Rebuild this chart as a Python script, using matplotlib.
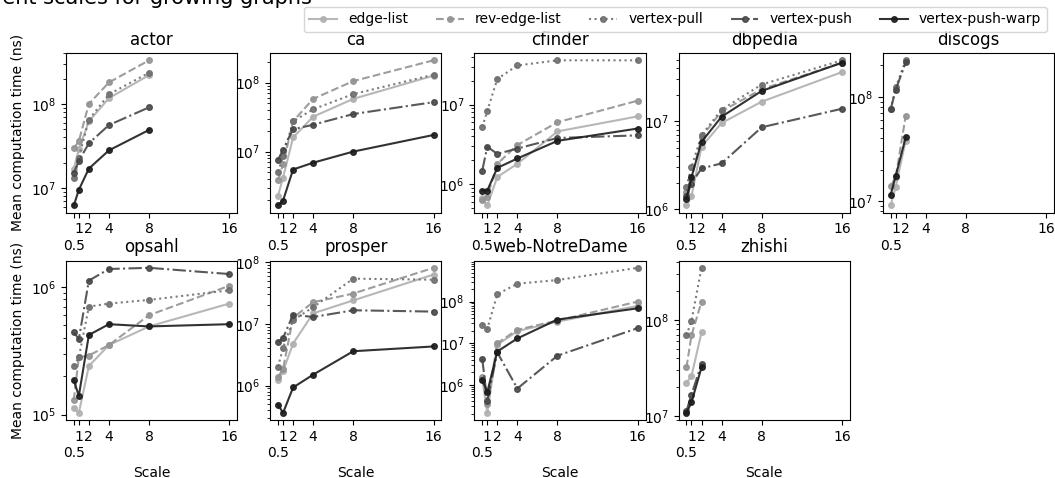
import numpy as np
import matplotlib
matplotlib.use("Agg")
import matplotlib.pyplot as plt

#%% data (mean computation time in ns)
scales = [0.5, 1, 2, 4, 8, 16]
graphs = ['actor', 'ca', 'cfinder', 'dbpedia', 'discogs',
          'opsahl', 'prosper', 'web-NotreDame', 'zhishi']

edge_list = {
    'actor':         [1.7e7, 2.9e7, 6.2e7, 1.17e8, 2.2e8],
    'ca':            [2.3e6, 4.2e6, 1.6e7, 3.2e7, 5.8e7, 1.26e8],
    'cfinder':       [6.6e5, 5.4e5, 1.23e6, 1.8e6, 4.6e6, 7.1e6],
    'dbpedia':       [1.1e6, 1.4e6, 5.1e6, 9.5e6, 1.66e7, 3.6e7],
    'discogs':       [9.1e6, 1.38e7, 3.8e7],
    'opsahl':        [1.13e5, 1.03e5, 2.4e5, 3.5e5, 4.9e5, 7.4e5],
    'prosper':       [1.23e6, 1.7e6, 4.8e6, 1.48e7, 2.4e7, 6.3e7],
    'web-NotreDame': [1.38e6, 2.1e5, 9.1e6, 1.95e7, 3.3e7, 7.9e7],
    'zhishi':        [2.2e7, 2.6e7, 7.4e7],
}
rev_edge_list = {
    'actor':         [2.95e7, 3.6e7, 1.0e8, 1.8e8, 3.3e8],
    'ca':            [3.9e6, 6.5e6, 2.75e7, 5.8e7, 1.05e8, 2.1e8],
    'cfinder':       [6.3e5, 6.9e5, 1.8e6, 3.1e6, 6.0e6, 1.12e7],
    'dbpedia':       [1.55e6, 2.2e6, 6.6e6, 1.29e7, 2.3e7, 4.6e7],
    'discogs':       [1.4e7, 1.7e7, 6.6e7],
    'opsahl':        [1.3e5, 2.8e5, 2.9e5, 3.5e5, 6.0e5, 1.02e6],
    'prosper':       [1.38e6, 1.86e6, 1.26e7, 2.24e7, 3.1e7, 8.1e7],
    'web-NotreDame': [1.5e6, 3.4e5, 1.0e7, 2.1e7, 3.5e7, 1.0e8],
    'zhishi':        [3.2e7, 6.9e7, 1.55e8],
}
vertex_pull = {
    'actor':         [1.3e7, 2.3e7, 6.5e7, 1.3e8, 2.35e8],
    'ca':            [5.1e6, 8.5e6, 2.75e7, 4.1e7, 6.8e7, 1.3e8],
    'cfinder':       [5.2e6, 8.3e6, 2.1e7, 3.1e7, 3.6e7, 3.6e7],
    'dbpedia':       [1.8e6, 3.0e6, 6.9e6, 1.35e7, 2.6e7, 4.9e7],
    'discogs':       [7.6e7, 1.23e8, 2.24e8],
    'opsahl':        [2.4e5, 2.8e5, 7.0e5, 7.4e5, 7.9e5, 9.4e5],
    'prosper':       [2.0e6, 4.1e6, 1.15e7, 1.86e7, 5.4e7, 5.2e7],
    'web-NotreDame': [2.8e7, 2.2e7, 1.5e8, 2.7e8, 3.3e8, 6.5e8],
    'zhishi':        [6.9e7, 9.8e7, 3.5e8],
}
vertex_push = {
    'actor':         [1.5e7, 2.1e7, 3.4e7, 5.6e7, 9.1e7],
    'ca':            [7.6e6, 1.07e7, 2.1e7, 2.45e7, 3.5e7, 5.2e7],
    'cfinder':       [1.48e6, 2.95e6, 2.4e6, 2.8e6, 3.8e6, 4.1e6],
    'dbpedia':       [1.4e6, 1.95e6, 2.9e6, 3.3e6, 8.5e6, 1.38e7],
    'discogs':       [7.6e7, 1.17e8, 2.14e8],
    'opsahl':        [4.4e5, 3.9e5, 1.12e6, 1.38e6, 1.41e6, 1.26e6],
    'prosper':       [5.0e6, 5.9e6, 1.41e7, 1.29e7, 1.66e7, 1.58e7],
    'web-NotreDame': [4.2e6, 4.1e5, 6.0e6, 8.1e5, 5.0e6, 2.3e7],
    'zhishi':        [1.12e7, 1.66e7, 3.5e7],
}
vertex_push_warp = {
    'actor':         [6.2e6, 9.5e6, 1.7e7, 2.8e7, 4.9e7],
    'ca':            [1.66e6, 1.95e6, 5.5e6, 6.9e6, 1.0e7, 1.74e7],
    'cfinder':       [8.3e5, 8.3e5, 1.6e6, 2.1e6, 3.5e6, 5.0e6],
    'dbpedia':       [1.3e6, 2.3e6, 5.8e6, 1.12e7, 2.2e7, 4.6e7],
    'discogs':       [1.15e7, 1.74e7, 4.1e7],
    'opsahl':        [1.85e5, 1.4e5, 4.2e5, 5.1e5, 4.9e5, 5.1e5],
    'prosper':       [4.9e5, 3.6e5, 9.3e5, 1.5e6, 3.6e6, 4.3e6],
    'web-NotreDame': [1.3e6, 6.6e5, 6.3e6, 1.3e7, 3.7e7, 6.9e7],
    'zhishi':        [1.07e7, 1.38e7, 3.2e7],
}

methods = [
    ('edge-list', edge_list, '-', '#b0b0b0'),
    ('rev-edge-list', rev_edge_list, '--', '#939393'),
    ('vertex-pull', vertex_pull, ':', '#6e6e6e'),
    ('vertex-push', vertex_push, '-.', '#474747'),
    ('vertex-push-warp', vertex_push_warp, '-', '#1c1c1c'),
]

#%% plot
fig, axes = plt.subplots(2, 5, figsize=(10.55, 4.78), dpi=100)
fig.subplots_adjust(left=0.0626, right=0.999, top=0.889, bottom=0.121,
                    wspace=0.194, hspace=0.30)
axes = axes.flatten()

for i, g in enumerate(graphs):
    ax = axes[i]
    for name, table, ls, col in methods:
        vals = table[g]
        ax.plot(scales[:len(vals)], vals, linestyle=ls, color=col,
                marker='o', markersize=4, linewidth=1.5, alpha=0.9, label=name)
    ax.set_yscale('log')
    ax.set_xlim(-0.275, 16.775)
    ax.set_xticks(scales)
    ax.set_xticklabels(['\n0.5', '1', '2', '4', '8', '16'])
    ax.set_title(g)
    if i % 5 == 0:
        ax.set_ylabel('Mean computation time (ns)')
    if i >= 5:
        ax.set_xlabel('Scale')

axes[9].axis('off')

handles, labels = axes[0].get_legend_handles_labels()
fig.legend(handles, labels, loc='upper right', bbox_to_anchor=(0.999, 1.0),
           ncol=5, fontsize=10)

# title sits mostly above the top edge, as in the original export
fig.text(312 / 1055, 1 - 4 / 478,
         'Computation time at different scales for growing graphs',
         ha='right', va='baseline', fontsize=15)

plt.savefig('out.png', dpi=100)
